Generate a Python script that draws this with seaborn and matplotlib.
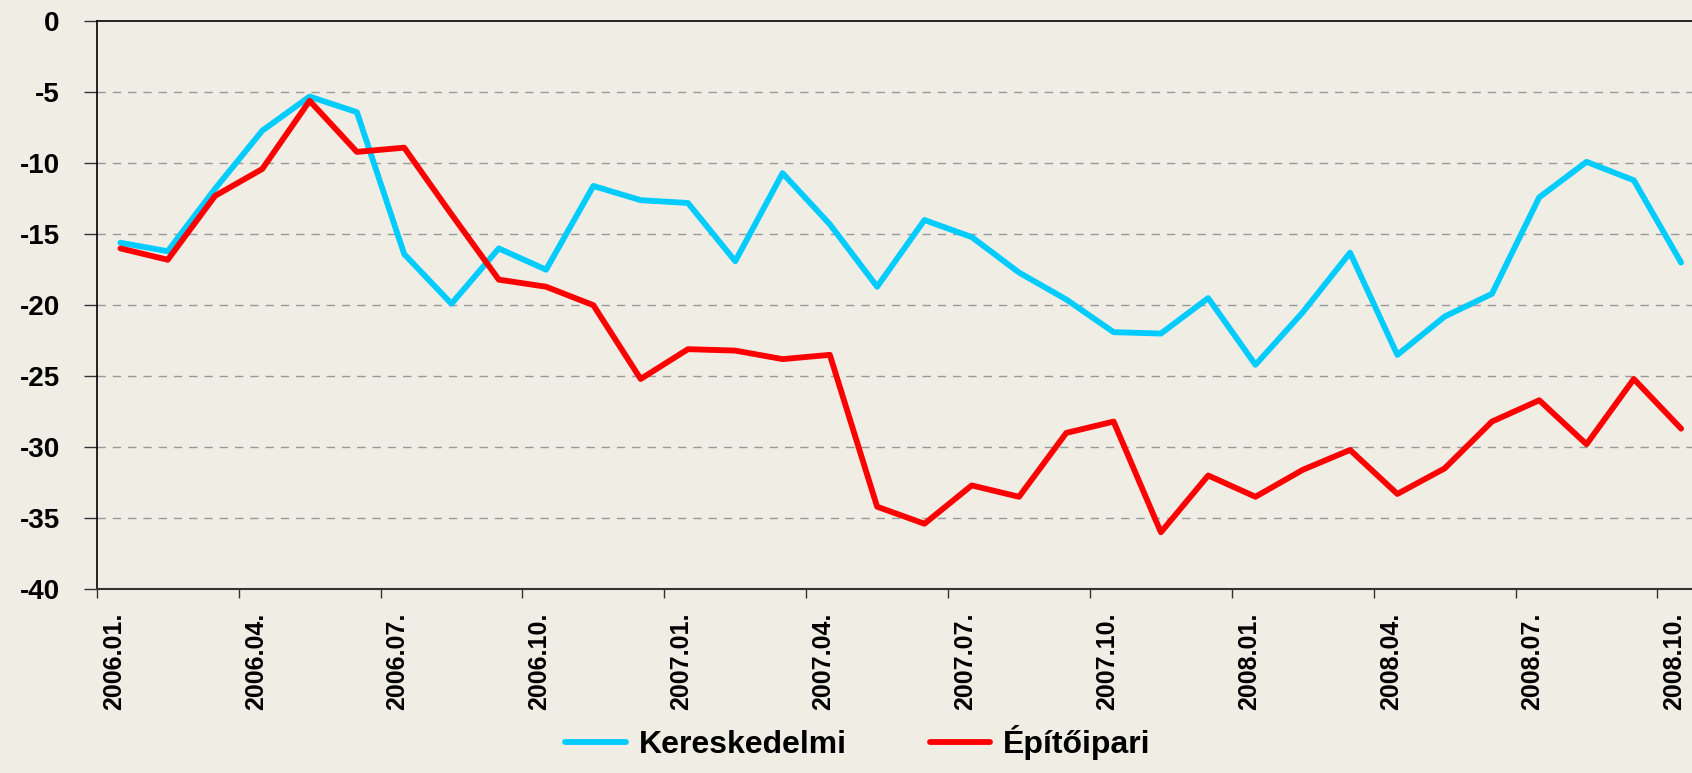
import matplotlib.pyplot as plt
import numpy as np
import pandas as pd
import seaborn as sns
from matplotlib.transforms import ScaledTranslation

# monthly values 2006.01 - 2008.10
kereskedelmi = [-15.6, -16.2, -11.8, -7.7, -5.3, -6.4, -16.4, -19.9, -16.0, -17.5,
                -11.6, -12.6, -12.8, -16.9, -10.7, -14.3, -18.7, -14.0, -15.2, -17.7,
                -19.6, -21.9, -22.0, -19.5, -24.2, -20.5, -16.3, -23.5, -20.8, -19.2,
                -12.4, -9.9, -11.2, -17.0]
epitoipari = [-16.0, -16.8, -12.3, -10.4, -5.6, -9.2, -8.9, -13.6, -18.2, -18.7,
              -20.0, -25.2, -23.1, -23.2, -23.8, -23.5, -34.2, -35.4, -32.7, -33.5,
              -29.0, -28.2, -36.0, -32.0, -33.5, -31.6, -30.2, -33.3, -31.5, -28.2,
              -26.7, -29.8, -25.2, -28.7]
tick_labels = ["2006.01.", "2006.04.", "2006.07.", "2006.10.", "2007.01.", "2007.04.",
               "2007.07.", "2007.10.", "2008.01.", "2008.04.", "2008.07.", "2008.10."]
y_ticks = [0, -5, -10, -15, -20, -25, -30, -35, -40]
series_names = ["Kereskedelmi", "Építőipari"]
colors = {"Kereskedelmi": "#00CCFF", "Építőipari": "#FF0000"}

n = len(kereskedelmi)
df = pd.DataFrame({
    "month": list(range(n)) * 2,
    "value": kereskedelmi + epitoipari,
    "series": [series_names[0]] * n + [series_names[1]] * n,
})

bg = "#F0EDE5"
sns.set_style("white", {"axes.facecolor": bg, "figure.facecolor": bg,
                        "text.color": "black", "xtick.color": "black", "ytick.color": "black"})
plt.rcParams["font.family"] = ["Liberation Sans", "DejaVu Sans"]
plt.rcParams["font.weight"] = "bold"

fig = plt.figure(figsize=(16.92, 7.73), dpi=100)
ax = fig.add_axes([0.0572, 0.238, 1 - 0.0572, 0.9724 - 0.238])

sns.lineplot(data=df, x="month", y="value", hue="series", palette=colors,
             linewidth=4.2, ax=ax, legend=True)

ax.set_xlim(-0.5, n - 1 + 0.23)
ax.set_ylim(-40, 0)
ax.set_yticks(y_ticks)
ax.set_yticklabels([str(v) for v in y_ticks], fontsize=20, fontweight="bold", color="black")
ax.tick_params(axis="y", left=True, length=9.6, width=1, color="#333333", pad=17)

ax.set_xticks([i * 3 - 0.5 for i in range(len(tick_labels))])
ax.set_xticklabels(tick_labels, rotation=90, fontsize=18, fontweight="bold", va="top",
                   color="black")
ax.tick_params(axis="x", bottom=True, length=6.5, width=1, color="#333333", pad=10.5)
for lbl in ax.get_xticklabels():
    lbl.set_transform(lbl.get_transform() + ScaledTranslation(0.17, 0, fig.dpi_scale_trans))

ax.set_xlabel("")
ax.set_ylabel("")
for v in y_ticks[1:-1]:
    ax.axhline(v, color="#999999", linestyle=(0, (6, 5)), linewidth=1, zorder=0)

ax.spines["right"].set_visible(False)
ax.spines["top"].set_color("black")
ax.spines["top"].set_linewidth(1.2)
ax.spines["left"].set_color("black")
ax.spines["left"].set_linewidth(1.2)
ax.spines["bottom"].set_color("#333333")
ax.spines["bottom"].set_linewidth(1.5)

handles, labels = ax.get_legend_handles_labels()
ax.get_legend().remove()
leg = fig.legend(handles, labels, loc="lower center", bbox_to_anchor=(0.507, -0.02), ncol=2,
                 frameon=False, fontsize=23, handlelength=1.9, columnspacing=2.6,
                 handletextpad=0.4)
for t in leg.get_texts():
    t.set_fontweight("bold")
    t.set_color("black")
for h in leg.get_lines():
    h.set_linewidth(4.2)

fig.savefig("out.png", dpi=100, facecolor=bg)
